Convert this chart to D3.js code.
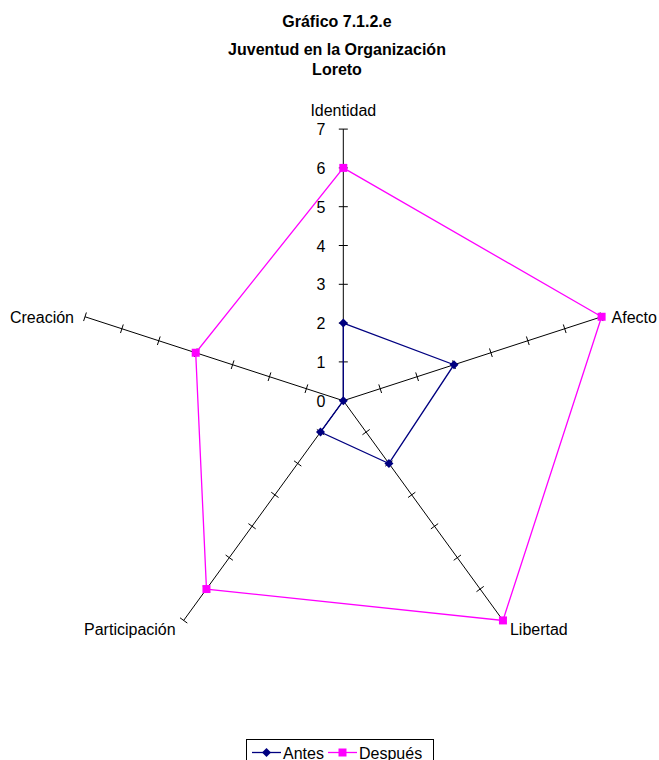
<!DOCTYPE html>
<html>
<head>
<meta charset="utf-8">
<script src="https://cdn.jsdelivr.net/npm/d3@7"></script>
<style>
  html, body { margin: 0; padding: 0; background: #fff; }
  svg { display: block; font-family: "Liberation Sans", Arial, sans-serif; }
</style>
</head>
<body>
<svg id="chart" width="659" height="760"></svg>
<script>
const titleLines = ["Gráfico 7.1.2.e", "Juventud en la Organización", "Loreto"];
const categories = ["Identidad", "Afecto", "Libertad", "Participación", "Creación"];
const seriesNames = ["Antes", "Después"];
const antes = [2, 3, 2, 1, 0];
const despues = [6, 7, 7, 6, 4];
const tickValues = [0, 1, 2, 3, 4, 5, 6, 7];

const colors = ["#000080", "#FF00FF"];
const svg = d3.select("#chart");
const cx = 343.3, cy = 400.7, R = 271.6;
const r = d3.scaleLinear().domain([0, 7]).range([0, R]);
const yAxisScale = d3.scaleLinear().domain([0, 7]).range([cy, cy - R]);
const angle = d3.scalePoint().domain(categories).range([0, 2 * Math.PI * (categories.length - 1) / categories.length]);

const px = (cat, v) => cx + r(v) * Math.sin(angle(cat));
const py = (cat, v) => cy - r(v) * Math.cos(angle(cat));

// Diamond symbol: square rotated 45 degrees
const diamond = { draw(ctx, size) { const h = Math.sqrt(size) / 2; ctx.moveTo(0, -h); ctx.lineTo(h, 0); ctx.lineTo(0, h); ctx.lineTo(-h, 0); ctx.closePath(); } };
const symbols = [diamond, d3.symbolSquare];
const symSizes = [81, 64];

// Titles
const titleY = [27, 55, 75];
svg.selectAll("text.title").data(titleLines).join("text")
  .attr("class", "title")
  .attr("x", 337).attr("y", (d, i) => titleY[i])
  .attr("text-anchor", "middle")
  .attr("font-size", 16).attr("font-weight", "bold").attr("fill", "#000")
  .text(d => d);

// Axes
const g = svg.append("g");
categories.forEach(cat => {
  const a = angle(cat);
  g.append("line")
    .attr("x1", cx).attr("y1", cy)
    .attr("x2", px(cat, 7)).attr("y2", py(cat, 7))
    .attr("stroke", "#000").attr("stroke-width", 1);
  const nx = Math.cos(a), ny = Math.sin(a);
  tickValues.slice(1).forEach(t => {
    const x = px(cat, t), y = py(cat, t);
    g.append("line")
      .attr("x1", x - nx * 4.5).attr("y1", y - ny * 4.5)
      .attr("x2", x + nx * 4.5).attr("y2", y + ny * 4.5)
      .attr("stroke", "#000").attr("stroke-width", 1);
  });
});

// Value labels on first axis
svg.selectAll("text.tick").data(tickValues).join("text")
  .attr("class", "tick")
  .attr("x", cx - 18)
  .attr("y", d => yAxisScale(d) + 6)
  .attr("text-anchor", "end")
  .attr("font-size", 16).attr("fill", "#000")
  .text(d => d);

// Category labels
categories.forEach(cat => {
  const a = angle(cat);
  const s = Math.sin(a), c = Math.cos(a);
  const x = px(cat, 7), y = py(cat, 7);
  let anchor, dx, dy;
  if (Math.abs(s) < 0.01) { anchor = "middle"; dx = 0; dy = -13; }
  else if (c > 0) { anchor = s > 0 ? "start" : "end"; dx = s > 0 ? 10 : -11; dy = 6; }
  else { anchor = s > 0 ? "start" : "end"; dx = s > 0 ? 7 : -8; dy = 15; }
  svg.append("text")
    .attr("x", x + dx).attr("y", y + dy)
    .attr("text-anchor", anchor)
    .attr("font-size", 16).attr("fill", "#000")
    .text(cat);
});

// Series
const series = [antes, despues];
const line = d3.line().x(d => px(d.cat, d.v)).y(d => py(d.cat, d.v)).curve(d3.curveLinearClosed);
series.forEach((vals, si) => {
  const pts = categories.map((cat, i) => ({ cat, v: vals[i] }));
  svg.append("path")
    .attr("d", line(pts))
    .attr("fill", "none").attr("stroke", colors[si]).attr("stroke-width", 1.3);
  svg.selectAll("path.m" + si).data(pts).join("path")
    .attr("class", "m" + si)
    .attr("transform", d => `translate(${px(d.cat, d.v)},${py(d.cat, d.v)})`)
    .attr("d", d3.symbol().type(symbols[si]).size(symSizes[si]))
    .attr("fill", colors[si]);
});

// Legend
const lg = svg.append("g");
lg.append("rect").attr("x", 246.5).attr("y", 739.5).attr("width", 187).attr("height", 30)
  .attr("fill", "#fff").attr("stroke", "#000").attr("stroke-width", 1);
const legX = [252, 328];
seriesNames.forEach((name, i) => {
  const x0 = legX[i];
  lg.append("line").attr("x1", x0).attr("x2", x0 + 29).attr("y1", 752.5).attr("y2", 752.5)
    .attr("stroke", colors[i]).attr("stroke-width", 1.3);
  lg.append("path")
    .attr("transform", `translate(${x0 + 14.5},752.5)`)
    .attr("d", d3.symbol().type(symbols[i]).size(symSizes[i]))
    .attr("fill", colors[i]);
  lg.append("text").attr("x", x0 + 31).attr("y", 758.5)
    .attr("font-size", 16).attr("fill", "#000").text(name);
});
</script>
</body>
</html>
